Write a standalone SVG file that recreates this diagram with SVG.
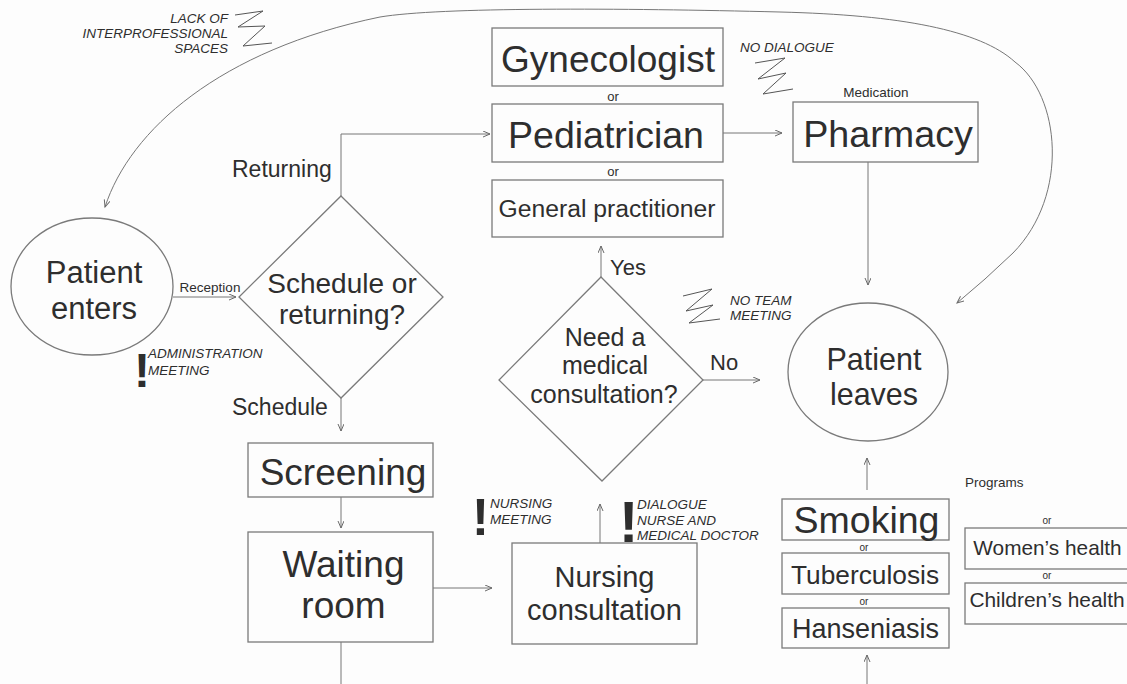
<svg xmlns="http://www.w3.org/2000/svg" width="1127" height="684" viewBox="0 0 1127 684">
<defs>
<marker id="arr" markerUnits="userSpaceOnUse" markerWidth="10" markerHeight="10" refX="7" refY="3" orient="auto-start-reverse">
<path d="M0,0 L7,3 L0,6" fill="none" stroke="#6a6a6a" stroke-width="1"/>
</marker>
<style>
text{font-family:"Liberation Sans",Arial,sans-serif;fill:#2e2e2e}
.box{fill:none;stroke:#7a7a7a;stroke-width:1.3}
.ln{fill:none;stroke:#777;stroke-width:1}
.a{marker-end:url(#arr)}
.note{font-style:italic;font-size:13.5px}
.bang{font-weight:bold}
.zz{fill:none;stroke:#555;stroke-width:1}
.c{text-anchor:middle}
</style>
</defs>
<rect x="0" y="0" width="1127" height="684" fill="#fdfdfd"/>

<g id="connectors">
<path class="ln" d="M105,207 C130,130 220,50 380,17 C440,7 620,8 780,12 C900,15 980,30 1015,62 C1060,95 1070,195 1013,253 Q985,280 957,303" marker-start="url(#arr)" marker-end="url(#arr)"/>
<line class="ln a" x1="173" y1="297" x2="236" y2="297"/>
<polyline class="ln a" points="341,196 341,134 490,134"/>
<line class="ln a" x1="341" y1="398" x2="341" y2="431"/>
<line class="ln a" x1="341" y1="497" x2="341" y2="528"/>
<line class="ln" x1="341" y1="642" x2="341" y2="684"/>
<line class="ln a" x1="433" y1="588" x2="492" y2="588"/>
<line class="ln a" x1="600" y1="543" x2="600" y2="504"/>
<line class="ln a" x1="601" y1="277" x2="601" y2="246"/>
<line class="ln a" x1="702" y1="380" x2="760" y2="380"/>
<line class="ln a" x1="723" y1="133" x2="782" y2="133"/>
<line class="ln a" x1="868" y1="162" x2="868" y2="285"/>
<line class="ln a" x1="867" y1="490" x2="867" y2="458"/>
<line class="ln a" x1="867" y1="684" x2="867" y2="655"/>
</g>

<g id="patient-enters">
<ellipse class="box" cx="92" cy="286.5" rx="81" ry="68.5"/>
<text class="c" x="94" y="283" font-size="31">Patient</text>
<text class="c" x="94" y="319" font-size="31">enters</text>
</g>
<text id="label-reception" class="c" x="210" y="292" font-size="13.5">Reception</text>

<g id="schedule-decision">
<polygon class="box" points="341,196 443,297 341,398 239,297"/>
<text class="c" x="342" y="293" font-size="28">Schedule or</text>
<text class="c" x="342" y="324" font-size="28">returning?</text>
</g>
<text id="label-returning" x="232" y="177" font-size="23">Returning</text>
<text id="label-schedule" x="232" y="415" font-size="23">Schedule</text>

<g id="screening">
<rect class="box" x="248" y="443" width="185" height="54"/>
<text class="c" x="343" y="485" font-size="37">Screening</text>
</g>

<g id="waiting-room">
<rect class="box" x="248" y="532" width="185" height="110"/>
<text class="c" x="343.5" y="577" font-size="37">Waiting</text>
<text class="c" x="343.5" y="618" font-size="37">room</text>
</g>

<g id="nursing-consultation">
<rect class="box" x="512" y="543" width="185" height="101"/>
<text class="c" x="604.5" y="587" font-size="29">Nursing</text>
<text class="c" x="604.5" y="620" font-size="29">consultation</text>
</g>

<g id="medical-decision">
<polygon class="box" points="601,277 703,380 602,481 499,380"/>
<text class="c" x="605" y="346" font-size="25">Need a</text>
<text class="c" x="605" y="374" font-size="25">medical</text>
<text class="c" x="604" y="403" font-size="25">consultation?</text>
</g>
<text id="label-yes" x="610" y="275" font-size="22">Yes</text>
<text id="label-no" x="710" y="370" font-size="22">No</text>

<g id="gynecologist">
<rect class="box" x="492" y="28" width="231" height="58"/>
<text class="c" x="608" y="72" font-size="37">Gynecologist</text>
</g>
<text class="c" x="613" y="101" font-size="13">or</text>
<g id="pediatrician">
<rect class="box" x="492" y="104" width="231" height="58"/>
<text class="c" x="606" y="148" font-size="37.5">Pediatrician</text>
</g>
<text class="c" x="613" y="176" font-size="13">or</text>
<g id="general-practitioner">
<rect class="box" x="492" y="180" width="231" height="57"/>
<text class="c" x="607" y="217" font-size="24.7">General practitioner</text>
</g>

<g id="pharmacy">
<rect class="box" x="793" y="102" width="185" height="60"/>
<text class="c" x="888" y="147" font-size="37.7">Pharmacy</text>
</g>
<text id="label-medication" class="c" x="876" y="97" font-size="13.5">Medication</text>

<g id="patient-leaves">
<ellipse class="box" cx="868" cy="372" rx="80" ry="69"/>
<text class="c" x="874" y="370" font-size="30.5">Patient</text>
<text class="c" x="874" y="405" font-size="30.5">leaves</text>
</g>

<g id="smoking">
<rect class="box" x="782" y="499" width="167" height="41"/>
<text class="c" x="866.5" y="533" font-size="37.5">Smoking</text>
</g>
<text class="c" x="864" y="551" font-size="10">or</text>
<g id="tuberculosis">
<rect class="box" x="782" y="553" width="167" height="41"/>
<text class="c" x="865" y="584" font-size="26.3">Tuberculosis</text>
</g>
<text class="c" x="864" y="605" font-size="10">or</text>
<g id="hanseniasis">
<rect class="box" x="782" y="608" width="167" height="40"/>
<text class="c" x="865.5" y="638" font-size="27">Hanseniasis</text>
</g>

<text id="label-programs" x="965" y="487" font-size="13.5">Programs</text>
<text class="c" x="1047" y="524" font-size="10">or</text>
<g id="womens-health">
<rect class="box" x="965" y="528" width="200" height="41"/>
<text class="c" x="1047.5" y="555" font-size="20.8">Women’s health</text>
</g>
<text class="c" x="1047" y="579" font-size="10">or</text>
<g id="childrens-health">
<rect class="box" x="965" y="583" width="200" height="41"/>
<text class="c" x="1047" y="607" font-size="20.9">Children’s health</text>
</g>

<g id="note-interprofessional">
<polyline class="zz" points="235,15 263,11 238,27 265,26 243,46 272,43"/>
<text class="note" text-anchor="end" x="228" y="23">LACK OF</text>
<text class="note" text-anchor="end" x="228" y="38">INTERPROFESSIONAL</text>
<text class="note" text-anchor="end" x="228" y="53">SPACES</text>
</g>

<g id="note-no-dialogue">
<text class="note" x="740" y="52">NO DIALOGUE</text>
<polyline class="zz" points="755,63 785,58 758,79 786,73 763,94 793,89"/>
</g>

<g id="note-no-team">
<polyline class="zz" points="683,296 712,289 686,311 713,305 689,323 720,319"/>
<text class="note" x="730" y="305">NO TEAM</text>
<text class="note" x="730" y="320">MEETING</text>
</g>

<g id="note-administration">
<text class="bang" x="134" y="387" font-size="48">!</text>
<text class="note" x="148" y="358">ADMINISTRATION</text>
<text class="note" x="148" y="375">MEETING</text>
</g>

<g id="note-nursing-meeting">
<text class="bang" x="472" y="535" font-size="51">!</text>
<text class="note" x="490" y="508">NURSING</text>
<text class="note" x="490" y="524">MEETING</text>
</g>

<g id="note-dialogue">
<text class="bang" x="619" y="542" font-size="58">!</text>
<text class="note" x="637" y="509">DIALOGUE</text>
<text class="note" x="637" y="525">NURSE AND</text>
<text class="note" x="637" y="540">MEDICAL DOCTOR</text>
</g>
</svg>
